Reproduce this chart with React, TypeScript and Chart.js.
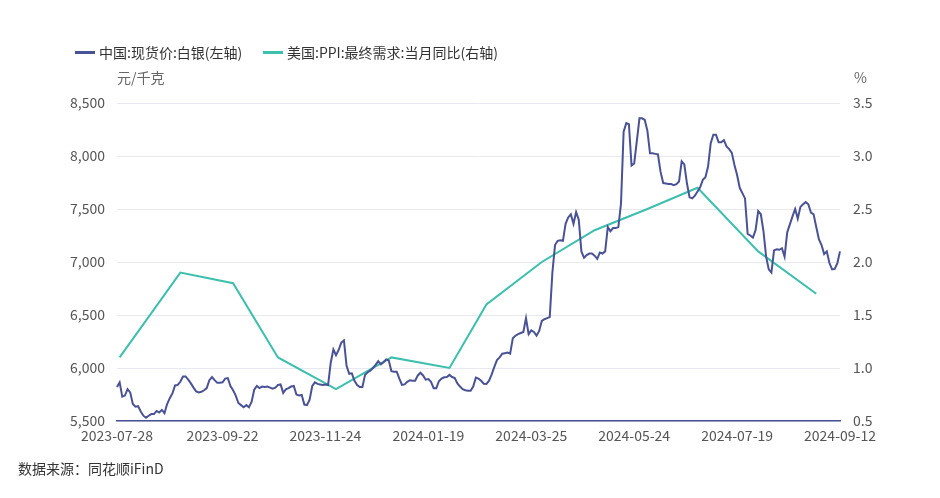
import React, { useEffect, useRef } from 'react';
import { Chart, registerables } from 'chart.js';

Chart.register(...registerables);

// ---- categories (trading days) ----
const FIRST_DAY = '2023-07-28';
const LAST_DAY = '2024-09-12';
const CLOSED_DAYS = [
  '2023-09-29', '2023-10-02', '2023-10-03', '2023-10-04', '2023-10-05', '2023-10-06',
  '2024-01-01', '2024-02-08', '2024-02-09', '2024-02-12', '2024-02-13', '2024-02-14',
  '2024-02-15', '2024-02-16', '2024-04-04', '2024-04-05', '2024-05-01', '2024-05-02',
  '2024-05-03', '2024-06-10',
];
const X_TICK_LABELS = [
  '2023-07-28', '2023-09-22', '2023-11-24', '2024-01-19',
  '2024-03-25', '2024-05-24', '2024-07-19', '2024-09-12',
];

function buildTradingDays(): string[] {
  const out: string[] = [];
  const d = new Date(FIRST_DAY + 'T00:00:00Z');
  const end = new Date(LAST_DAY + 'T00:00:00Z');
  while (d <= end) {
    const wd = d.getUTCDay();
    const s = d.toISOString().slice(0, 10);
    if (wd !== 0 && wd !== 6 && !CLOSED_DAYS.includes(s)) out.push(s);
    d.setUTCDate(d.getUTCDate() + 1);
  }
  return out;
}

// ---- series: 中国:现货价:白银 (元/千克) ----
const silverPrice = [
  5820, 5865, 5730, 5740, 5800, 5770, 5660, 5635, 5640, 5590,
  5550, 5530, 5550, 5565, 5565, 5595, 5580, 5605, 5575, 5660,
  5715, 5760, 5835, 5840, 5870, 5920, 5920, 5890, 5855, 5815,
  5780, 5770, 5775, 5790, 5810, 5885, 5915, 5885, 5860, 5860,
  5865, 5900, 5905, 5830, 5790, 5740, 5670, 5650, 5630, 5650,
  5630, 5680, 5795, 5830, 5810, 5825, 5820, 5825, 5815, 5805,
  5815, 5840, 5845, 5765, 5800, 5810, 5825, 5830, 5750, 5740,
  5745, 5655, 5650, 5700, 5830, 5865, 5850, 5845, 5840, 5845,
  5840, 6050, 6175, 6120, 6170, 6240, 6260, 6020, 5945, 5950,
  5880, 5840, 5820, 5820, 5935, 5960, 5975, 6000, 6030, 6065,
  6035, 6055, 6080, 6070, 5970, 5965, 5965, 5900, 5840, 5845,
  5870, 5885, 5880, 5880, 5930, 5955, 5930, 5890, 5895, 5870,
  5810, 5810, 5875, 5900, 5912, 5915, 5935, 5915, 5905, 5855,
  5825, 5800, 5790, 5785, 5785, 5825, 5910, 5900, 5880, 5852,
  5850, 5880, 5940, 6010, 6075, 6100, 6135, 6140, 6145, 6135,
  6280, 6305, 6320, 6330, 6340, 6470, 6320, 6355, 6340, 6305,
  6350, 6445, 6460, 6470, 6480, 6900, 7160, 7200, 7205, 7200,
  7360, 7420, 7450, 7360, 7470, 7400, 7100, 7040, 7065, 7080,
  7080, 7060, 7030, 7090, 7080, 7100, 7330, 7290, 7320, 7320,
  7330, 7550, 8230, 8310, 8300, 7910, 7930, 8140, 8355, 8355,
  8340, 8240, 8025, 8025, 8020, 8015, 7850, 7745, 7740, 7735,
  7735, 7725, 7735, 7760, 7950, 7920, 7740, 7610, 7600, 7625,
  7665, 7705, 7775, 7800, 7900, 8120, 8200, 8200, 8130, 8130,
  8150, 8090, 8065, 8030, 7915, 7820, 7700, 7650, 7600, 7265,
  7250, 7230, 7300, 7480, 7450, 7290, 7050, 6930, 6900, 7110,
  7120, 7115, 7130, 7050, 7280, 7355, 7430, 7500, 7410, 7520,
  7545, 7565, 7545, 7465, 7450, 7330, 7215, 7160, 7075, 7100,
  6990, 6930, 6935, 6990, 7100,
];

// ---- series: 美国:PPI:最终需求:当月同比 (%) ----
const ppiDates = [
  '2023-07-31', '2023-08-31', '2023-09-28', '2023-10-31', '2023-11-30', '2023-12-29',
  '2024-01-31', '2024-02-29', '2024-03-29', '2024-04-30', '2024-05-31', '2024-06-28',
  '2024-07-31', '2024-08-30',
];
const ppiValues = [1.1, 1.9, 1.8, 1.1, 0.8, 1.1, 1.0, 1.6, 2.0, 2.3, 2.5, 2.7, 2.1, 1.7];

const SILVER_NAME = '中国:现货价:白银(左轴)';
const PPI_NAME = '美国:PPI:最终需求:当月同比(右轴)';
const SILVER_COLOR = '#4a5296';
const PPI_COLOR = '#3dbfae';
const FONT = "'Noto Sans CJK SC', 'Noto Sans', sans-serif";
const TEXT = '#555';

export default function App() {
  const ref = useRef<HTMLCanvasElement | null>(null);

  useEffect(() => {
    document.body.style.margin = '0';
    const dates = buildTradingDays();
    const ctx = ref.current!.getContext('2d')!;
    const chart = new Chart(ctx, {
      type: 'line',
      data: {
        labels: dates,
        datasets: [
          {
            label: SILVER_NAME,
            data: silverPrice,
            yAxisID: 'y',
            borderColor: SILVER_COLOR,
            backgroundColor: SILVER_COLOR,
            borderWidth: 2,
            pointRadius: 0,
            tension: 0,
          },
          {
            label: PPI_NAME,
            data: ppiDates.map((d, i) => ({ x: d, y: ppiValues[i] })) as any,
            yAxisID: 'y1',
            borderColor: PPI_COLOR,
            backgroundColor: PPI_COLOR,
            borderWidth: 2,
            pointRadius: 0,
            tension: 0,
          },
        ],
      },
      options: {
        responsive: false,
        animation: false,
        layout: { padding: { top: 103, left: 0, right: 0, bottom: 0 } },
        plugins: { legend: { display: false }, tooltip: { enabled: false } },
        scales: {
          x: {
            type: 'category',
            grid: { display: false, drawTicks: false },
            border: { display: true, color: SILVER_COLOR, width: 1.5 },
            afterFit: (s: any) => { s.height = 77; },
            ticks: {
              autoSkip: false,
              maxRotation: 0,
              minRotation: 0,
              padding: 6,
              color: TEXT,
              font: { family: FONT, size: 14 },
              callback: (_v: any, i: number) => (X_TICK_LABELS.includes(dates[i]) ? dates[i] : ''),
            },
          },
          y: {
            position: 'left',
            min: 5500,
            max: 8500,
            afterFit: (s: any) => { s.width = 117; },
            grid: { color: '#e8e8f0', drawTicks: false },
            border: { display: false },
            ticks: {
              stepSize: 500,
              padding: 12,
              color: TEXT,
              font: { family: FONT, size: 14 },
              callback: (v: any) => Number(v).toLocaleString('en-US'),
            },
          },
          y1: {
            position: 'right',
            min: 0.5,
            max: 3.5,
            afterFit: (s: any) => { s.width = 100; },
            grid: { drawOnChartArea: false, drawTicks: false },
            border: { display: false },
            ticks: {
              stepSize: 0.5,
              padding: 13,
              color: TEXT,
              font: { family: FONT, size: 14 },
              callback: (v: any) => Number(v).toFixed(1),
            },
          },
        },
      },
    });
    return () => chart.destroy();
  }, []);

  const txt: React.CSSProperties = {
    position: 'absolute',
    fontFamily: FONT,
    fontSize: 14,
    color: '#333',
    whiteSpace: 'nowrap',
    lineHeight: '16px',
  };
  const swatch = (left: number, color: string): React.CSSProperties => ({
    position: 'absolute',
    left,
    top: 51,
    width: 20,
    height: 3,
    background: color,
  });

  return (
    <div style={{ position: 'absolute', left: 0, top: 0, width: 940, height: 498, background: '#fff' }}>
      <canvas ref={ref} width={940} height={498} style={{ position: 'absolute', left: 0, top: 0 }} />
      <div style={swatch(75, SILVER_COLOR)} />
      <div style={{ ...txt, left: 99, top: 44 }}>{SILVER_NAME}</div>
      <div style={swatch(263, PPI_COLOR)} />
      <div style={{ ...txt, left: 287, top: 44 }}>{PPI_NAME}</div>
      <div style={{ ...txt, left: 117, top: 69, color: '#666' }}>元/千克</div>
      <div style={{ ...txt, left: 854, top: 69, color: '#666' }}>%</div>
      <div style={{ ...txt, left: 18, top: 460, fontSize: 14 }}>数据来源：同花顺iFinD</div>
    </div>
  );
}
